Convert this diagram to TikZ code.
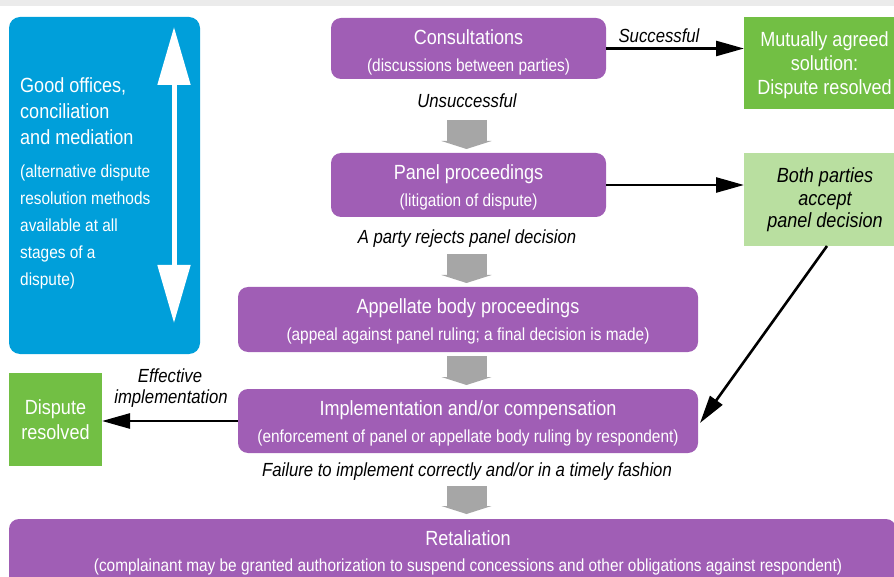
\documentclass[tikz,border=0pt]{standalone}
\usepackage{fontspec}
\setmainfont{Liberation Sans}[FakeStretch=0.88]
\usetikzlibrary{arrows.meta}
\definecolor{wtopurple}{RGB}{160,94,181}
\definecolor{wtoblue}{RGB}{0,159,218}
\definecolor{wtogreen}{RGB}{114,191,68}
\definecolor{wtolight}{RGB}{185,223,160}
\definecolor{wtogrey}{RGB}{166,166,166}
\definecolor{wtoband}{RGB}{235,235,235}
\begin{document}
\begin{tikzpicture}[x=1pt,y=-1pt,
  box/.style={draw=none, inner sep=0pt, outer sep=0pt, anchor=north west, rectangle},
  purplebox/.style={box, fill=wtopurple, rounded corners=10pt},
  bluebox/.style={box, fill=wtoblue, rounded corners=11pt},
  greenbox/.style={box, fill=wtogreen},
  lightbox/.style={box, fill=wtolight},
  ttl/.style={inner sep=0pt, text=white, font=\fontsize{20.5}{24}\selectfont, text height=14.8pt, text depth=0pt},
  sub/.style={inner sep=0pt, text=white, font=\fontsize{17.5}{21}\selectfont, text height=12.6pt, text depth=0pt},
  lbl/.style={inner sep=0pt, text=black, font=\fontsize{19}{22}\selectfont\itshape, text height=13.7pt, text depth=0pt},
  darkttl/.style={inner sep=0pt, text=black, font=\fontsize{20.5}{24}\selectfont\itshape, text height=14.8pt, text depth=0pt},
  blackarrow/.style={draw=black, line width=2.6pt, -{Triangle[length=28pt,width=15pt]}},
  whitearrow/.style={draw=white, line width=5pt, {Triangle[length=58pt,width=32pt]}-{Triangle[length=58pt,width=32pt]}},
  greyarrow/.style={draw=wtogrey, line width=40pt, -{Triangle[length=8pt,width=50pt]}}
]
\useasboundingbox (0,0) rectangle (894,577);
\clip (0,0) rectangle (894,577);
\fill[wtoband] (0,0) rectangle (894,6);

% blue box
\node[bluebox, minimum width=191pt, minimum height=337pt] (blue) at (9,17) {};
\coordinate (dtop) at (174,27);
\coordinate (dbot) at (174,323);
\draw[whitearrow] (dtop) -- (dbot);
\node[ttl, anchor=west] (b1) at (20,85) {Good offices,};
\node[ttl, anchor=west] (b2) at (20,111) {conciliation};
\node[ttl, anchor=west] (b3) at (20,137) {and mediation};
\node[sub, anchor=west] (b4) at (20,171) {(alternative dispute};
\node[sub, anchor=west] (b5) at (20,198) {resolution methods};
\node[sub, anchor=west] (b6) at (20,225) {available at all};
\node[sub, anchor=west] (b7) at (20,252) {stages of a};
\node[sub, anchor=west] (b8) at (20,279) {dispute)};

% purple boxes
\node[purplebox, minimum width=275pt, minimum height=61pt] (cons) at (331,18) {};
\node[ttl] (consT) at (468.5,37) {Consultations};
\node[sub] (consS) at (468.5,65) {(discussions between parties)};

\node[purplebox, minimum width=275pt, minimum height=64pt] (panel) at (331,153) {};
\node[ttl] (panelT) at (468.5,172) {Panel proceedings};
\node[sub] (panelS) at (468.5,200) {(litigation of dispute)};

\node[purplebox, minimum width=460pt, minimum height=65pt] (app) at (238,287) {};
\node[ttl] (appT) at (468,306) {Appellate body proceedings};
\node[sub] (appS) at (468,334) {(appeal against panel ruling; a final decision is made)};

\node[purplebox, minimum width=460pt, minimum height=64pt] (impl) at (238,389) {};
\node[ttl] (implT) at (468,408) {Implementation and/or compensation};
\node[sub] (implS) at (468,436) {(enforcement of panel or appellate body ruling by respondent)};

\node[purplebox, minimum width=887pt, minimum height=90pt] (ret) at (9,519) {};
\node[ttl] (retT) at (468,538) {Retaliation};
\node[sub] (retS) at (468,565) {(complainant may be granted authorization to suspend concessions and other obligations against respondent)};

% green boxes
\node[greenbox, minimum width=150pt, minimum height=92pt] (mut) at (744,17) {};
\node[ttl] (mut1) at (824.5,39) {Mutually agreed};
\node[ttl] (mut2) at (824.5,63) {solution:};
\node[ttl] (mut3) at (824.5,87) {Dispute resolved};

\node[lightbox, minimum width=150pt, minimum height=93pt] (light) at (744,153) {};
\node[darkttl] (light1) at (825,175) {Both parties};
\node[darkttl] (light2) at (825,198) {accept};
\node[darkttl] (light3) at (825,220) {panel decision};

\node[greenbox, minimum width=93pt, minimum height=93pt] (disp) at (9,373) {};
\node[ttl] (disp1) at (55.5,407) {Dispute};
\node[ttl] (disp2) at (55.5,432) {resolved};

% labels
\node[lbl] (succ) at (659,36) {Successful};
\node[lbl] (unsucc) at (467,101) {Unsuccessful};
\node[lbl] (rej) at (467,237) {A party rejects panel decision};
\node[lbl] (eff1) at (170,376) {Effective};
\node[lbl] (eff2) at (171,397) {implementation};
\node[lbl] (fail) at (467,470) {Failure to implement correctly and/or in a timely fashion};

% black arrows
\draw[blackarrow] (cons.east) -- (cons.east -| mut.west);
\draw[blackarrow] (panel.east) -- (panel.east -| light.west);
\draw[blackarrow] (impl.west) -- (impl.west -| disp.east);
\coordinate (dstart) at (827,246);
\coordinate (dend) at (700,423);
\draw[blackarrow] (dstart) -- (dend);

% grey arrows
\coordinate (g1a) at (466.5,120); \coordinate (g1b) at (466.5,149);
\coordinate (g2a) at (466.5,254); \coordinate (g2b) at (466.5,283);
\coordinate (g3a) at (466.5,356); \coordinate (g3b) at (466.5,385);
\coordinate (g4a) at (466.5,486); \coordinate (g4b) at (466.5,514);
\draw[greyarrow] (g1a) -- (g1b);
\draw[greyarrow] (g2a) -- (g2b);
\draw[greyarrow] (g3a) -- (g3b);
\draw[greyarrow] (g4a) -- (g4b);
\end{tikzpicture}
\end{document}
